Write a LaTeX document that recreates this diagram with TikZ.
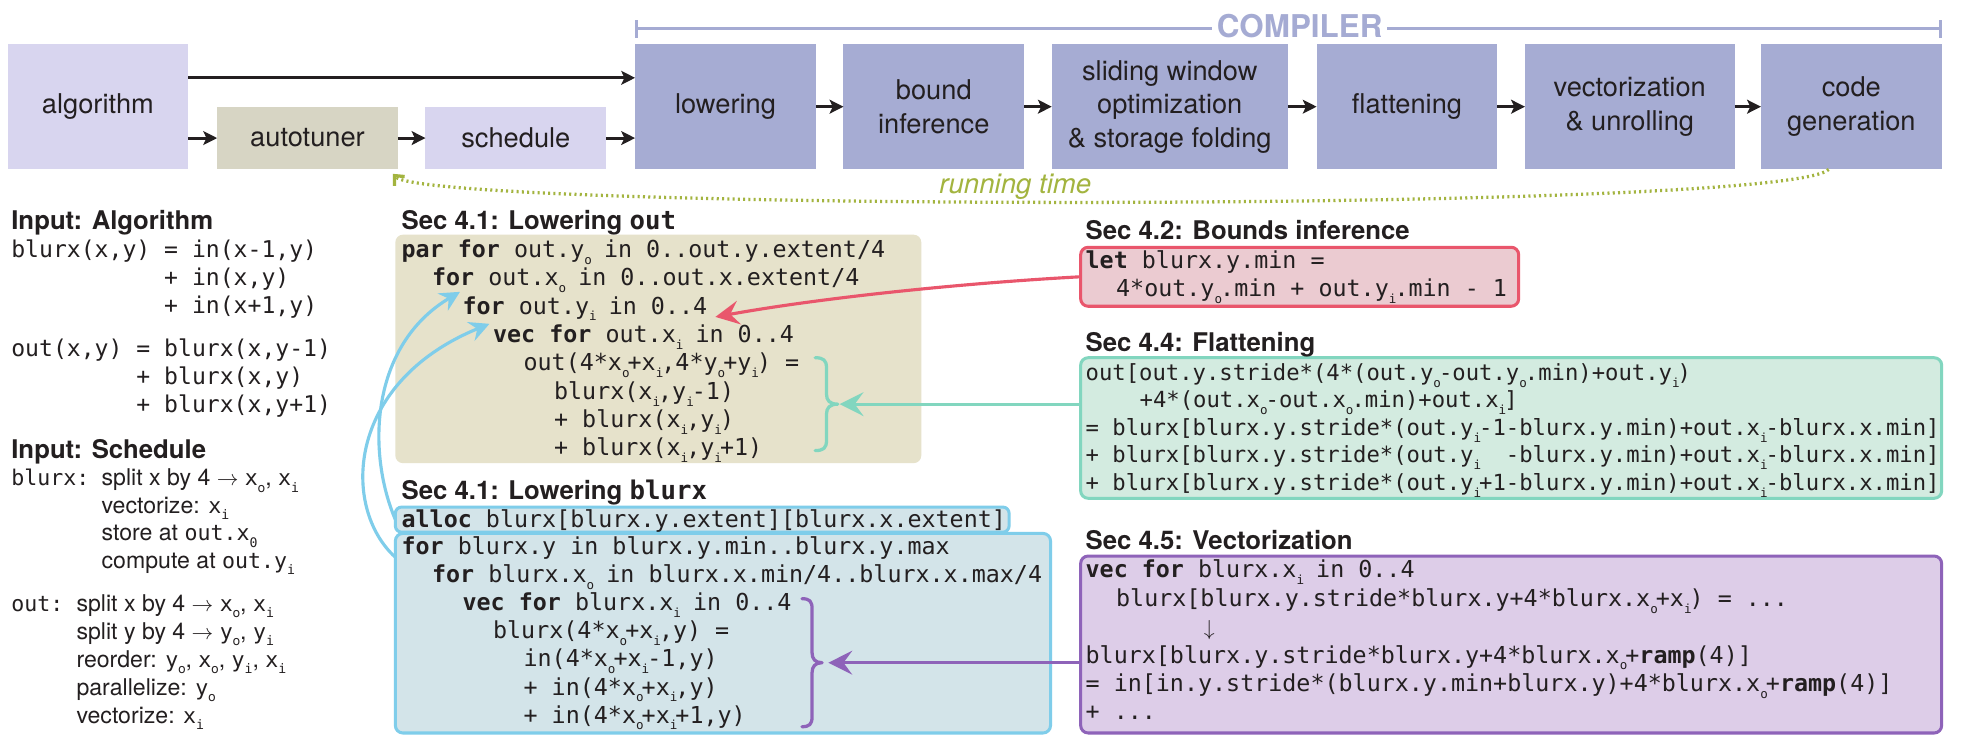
\documentclass[tikz,border=0pt]{standalone}
\usepackage{fontspec}
\setmainfont{TeX Gyre Heros}
\newfontfamily\monof{DejaVu Sans Mono}
\usetikzlibrary{arrows.meta}
\definecolor{cmpbox}{HTML}{A6ACD3}
\definecolor{cmptext}{HTML}{A5ABD3}
\definecolor{inbox}{HTML}{D8D5EF}
\definecolor{atbox}{HTML}{D7D5C4}
\definecolor{khaki}{HTML}{E6E2CB}
\definecolor{bluefill}{HTML}{D3E4E9}
\definecolor{blueline}{HTML}{7FCDEA}
\definecolor{redfill}{HTML}{EBCBD1}
\definecolor{redline}{HTML}{E9566C}
\definecolor{greenfill}{HTML}{D3EBE0}
\definecolor{greenline}{HTML}{82D6BF}
\definecolor{purfill}{HTML}{DDCDE8}
\definecolor{purline}{HTML}{8E63B9}
\definecolor{olive}{HTML}{A3B43F}
\definecolor{ink}{HTML}{231F20}
\newlength\ltab \setlength\ltab{24.3pt}
\newcommand\tb[1]{\hspace*{#1\ltab}}
\newcommand\sbs[1]{\makebox[4.5pt][l]{\raisebox{-5.5pt}{\fontsize{10}{10}\selectfont #1}}}
\newcommand\ssb[1]{\raisebox{-5pt}{\fontsize{10.5}{10.5}\selectfont #1}}
\newcommand\kw[1]{\textbf{#1}}
\newcommand\cblock[2]{\vtop{\baselineskip=#1\relax\lineskiplimit=-100pt\relax\lineskip=0pt\relax #2}}
\newcommand\labfont{\fontsize{21.7}{26.7}\selectfont}
\newcommand\headfont{\fontsize{20.5}{24}\selectfont\bfseries}
\newcommand\codefont{\monof\fontsize{18.6}{22.6}\selectfont}
\newcommand\flatfont{\monof\fontsize{17.7}{21.9}\selectfont}
\newcommand\algfont{\monof\fontsize{18.4}{22.5}\selectfont}
\newcommand\schfont{\fontsize{18.4}{22.4}\selectfont}
\newcommand\schm[1]{{\monof\fontsize{17.2}{22.4}\selectfont #1}}
\begin{document}
\begin{tikzpicture}[x=1pt,y=-1pt,
  txt/.style={inner sep=0pt, outer sep=0pt, text=ink, anchor=base west},
  stage/.style={fill=cmpbox, minimum width=144pt, minimum height=100pt, inner sep=0pt, outer sep=0pt, align=center, font=\labfont, text=ink},
  blk/.style={draw=ink, line width=2.3pt, -{Stealth[length=11pt,width=11pt,inset=2.5pt]}},
  cbox/.style={rounded corners=6pt, inner sep=0pt, outer sep=0pt, anchor=north west, line width=2.4pt},
  conn/.style={line width=2.5pt, -{Stealth[length=19pt,width=19pt,inset=7pt]}},
  bconn/.style={line width=2.5pt, -{Stealth[length=16pt,width=16pt,inset=5.5pt]}},
  brc/.style={line width=2.6pt, line cap=round, line join=round},
  cmpline/.style={draw=cmptext, line width=2.4pt}]
\useasboundingbox (0,0) rectangle (1568,598);
\fill[white] (0,0) rectangle (1568,598);

% ---------- top row ----------
\node[stage, fill=inbox] (alg) at (78,85) {algorithm};
\node[stage, fill=atbox, minimum height=49pt] (at) at (245,110) {autotuner};
\node[stage, fill=inbox, minimum height=49pt] (sch) at (411,110) {schedule};
\node[stage] (low) at (578,85) {lowering};
\node[stage] (bnd) at (744,85) {bound\\inference};
\node[stage, minimum width=188pt] (sw) at (932,85) {sliding window\\optimization\\\& storage folding};
\node[stage] (fla) at (1121,85) {flattening};
\node[stage, minimum width=167pt] (vu) at (1298.5,85) {vectorization\\\& unrolling};
\node[stage] (cg) at (1475,85) {code\\generation};

\coordinate (a1) at ([yshift=-27pt]alg.north east);
\draw[blk] (a1) -- (a1 -| low.west);
\draw[blk] (alg.east |- at.west) -- (at.west);
\draw[blk] (at.east) -- (sch.west);
\draw[blk] (sch.east) -- (sch.east -| low.west);
\draw[blk] (low.east) -- (bnd.west);
\draw[blk] (bnd.east) -- (sw.west);
\draw[blk] (sw.east) -- (fla.west);
\draw[blk] (fla.east) -- (vu.west);
\draw[blk] (vu.east) -- (cg.west);

% compiler bracket
\node[txt, anchor=center, font=\fontsize{25}{25}\selectfont\bfseries, text=cmptext, inner xsep=4pt] (cmp) at (1035.5,21) {COMPILER};
\coordinate (cl) at (506,23);
\coordinate (cr) at (1547,23);
\draw[cmpline, {Bar[width=14pt]}-] (cl) -- (cmp.west |- cl);
\draw[cmpline, -{Bar[width=14pt]}] (cmp.east |- cr) -- (cr);

% running time feedback
\coordinate (rs) at ([xshift=-18pt]cg.south);
\coordinate (re) at ([xshift=-4pt,yshift=-4pt]at.south east);
\draw[olive, line width=2.6pt, dash pattern=on 1.6pt off 2.6pt, -{Straight Barb[length=6pt,width=11pt]}] (rs) .. controls (1420,170) and (340,168) .. (re);
\node[txt, anchor=center, font=\fontsize{22}{22}\selectfont\itshape, text=olive] (rt) at (809,149) {running time};

% ---------- left column ----------
\node[txt, font=\headfont] (ia) at (9,183) {Input: Algorithm};
\node[txt, font=\algfont] (ac1) at (9,205) {\cblock{22.5pt}{%
\hbox{blurx(x,y) = in(x-1,y)}%
\hbox{\phantom{xxxxxxxxxxx}+ in(x,y)}%
\hbox{\phantom{xxxxxxxxxxx}+ in(x+1,y)}}};
\node[txt, font=\algfont] (ac2) at (9,284) {\cblock{22.5pt}{%
\hbox{out(x,y) = blurx(x,y-1)}%
\hbox{\phantom{xxxxxxxxx}+ blurx(x,y)}%
\hbox{\phantom{xxxxxxxxx}+ blurx(x,y+1)}}};

\node[txt, font=\headfont] (is) at (9,365) {Input: Schedule};
\node[txt] (sb) at (9,387) {\schm{blurx:}};
\node[txt, font=\schfont] (sb1) at (81,387) {\cblock{22pt}{%
\hbox{split x by 4 $\rightarrow$ \schm{x}\ssb{o}, \schm{x}\ssb{\monof i}}%
\hbox{vectorize: \schm{x}\ssb{\monof i}}%
\hbox{store at \schm{out.x}\ssb{\monof 0}}%
\hbox{compute at \schm{out.y}\ssb{\monof i}}}};
\node[txt] (so) at (9,487) {\schm{out:}};
\node[txt, font=\schfont] (so1) at (61,487) {\cblock{22.3pt}{%
\hbox{split x by 4 $\rightarrow$ \schm{x}\ssb{o}, \schm{x}\ssb{\monof i}}%
\hbox{split y by 4 $\rightarrow$ \schm{y}\ssb{o}, \schm{y}\ssb{\monof i}}%
\hbox{reorder: \schm{y}\ssb{o}, \schm{x}\ssb{o}, \schm{y}\ssb{\monof i}, \schm{x}\ssb{\monof i}}%
\hbox{parallelize: \schm{y}\ssb{o}}%
\hbox{vectorize: \schm{x}\ssb{\monof i}}}};

% ---------- code boxes ----------
\node[cbox, fill=khaki, minimum width=419pt, minimum height=182pt] (lob) at (315,187) {};
\node[cbox, fill=bluefill, draw=blueline, rounded corners=5pt, minimum width=489pt, minimum height=20pt] (alb) at (315,404) {};
\node[cbox, fill=bluefill, draw=blueline, minimum width=522pt, minimum height=159pt] (blb) at (315,425) {};
\node[cbox, fill=redfill, draw=redline, minimum width=349pt, minimum height=47pt] (bib) at (861,197) {};
\node[cbox, fill=greenfill, draw=greenline, minimum width=686pt, minimum height=112pt] (flb) at (861,285) {};
\node[cbox, fill=purfill, draw=purline, minimum width=686pt, minimum height=141pt] (vcb) at (861,443) {};

% headings
\node[txt, font=\headfont] (h1) at (320,183) {Sec 4.1: Lowering {\monof out}};
\node[txt, font=\headfont] (h2) at (320,398) {Sec 4.1: Lowering {\monof blurx}};
\node[txt, font=\headfont] (h3) at (865,191) {Sec 4.2: Bounds inference};
\node[txt, font=\headfont] (h4) at (865,280) {Sec 4.4: Flattening};
\node[txt, font=\headfont] (h5) at (865,438) {Sec 4.5: Vectorization};

% Lowering out
\node[txt, font=\codefont] (lo) at (320,205) {\cblock{22.6pt}{%
\hbox{\kw{par for} out.y\sbs{o} in 0..out.y.extent/4}%
\hbox{\tb{1}\kw{for} out.x\sbs{o} in 0..out.x.extent/4}%
\hbox{\tb{2}\kw{for} out.y\sbs{i} in 0..4}%
\hbox{\tb{3}\kw{vec for} out.x\sbs{i} in 0..4}%
\hbox{\tb{4}out(4*x\sbs{o}+x\sbs{i},4*y\sbs{o}+y\sbs{i}) =}%
\hbox{\tb{5}blurx(x\sbs{i},y\sbs{i}-1)}%
\hbox{\tb{5}+ blurx(x\sbs{i},y\sbs{i})}%
\hbox{\tb{5}+ blurx(x\sbs{i},y\sbs{i}+1)}}};

% Lowering blurx
\node[txt, font=\codefont] (al) at (320,420) {\kw{alloc} blurx[blurx.y.extent][blurx.x.extent]};
\node[txt, font=\codefont] (bl) at (320,442) {\cblock{22.35pt}{%
\hbox{\kw{for} blurx.y in blurx.y.min..blurx.y.max}%
\hbox{\tb{1}\kw{for} blurx.x\sbs{o} in blurx.x.min/4..blurx.x.max/4}%
\hbox{\tb{2}\kw{vec for} blurx.x\sbs{i} in 0..4}%
\hbox{\tb{3}blurx(4*x\sbs{o}+x\sbs{i},y) =}%
\hbox{\tb{4}in(4*x\sbs{o}+x\sbs{i}-1,y)}%
\hbox{\tb{4}+ in(4*x\sbs{o}+x\sbs{i},y)}%
\hbox{\tb{4}+ in(4*x\sbs{o}+x\sbs{i}+1,y)}}};

% Bounds inference
\node[txt, font=\codefont] (bi) at (865,214) {\cblock{22.5pt}{%
\hbox{\kw{let} blurx.y.min =}%
\hbox{\tb{1}4*out.y\sbs{o}.min + out.y\sbs{i}.min - 1}}};

% Flattening
\node[txt, font=\flatfont] (fl) at (865,303) {\cblock{21.9pt}{%
\hbox{out[out.y.stride*(4*(out.y\sbs{o}-out.y\sbs{o}.min)+out.y\sbs{i})}%
\hbox{\hspace*{43pt}+4*(out.x\sbs{o}-out.x\sbs{o}.min)+out.x\sbs{i}]}%
\hbox{= blurx[blurx.y.stride*(out.y\sbs{i}-1-blurx.y.min)+out.x\sbs{i}-blurx.x.min]}%
\hbox{+ blurx[blurx.y.stride*(out.y\sbs{i}\phantom{-1}-blurx.y.min)+out.x\sbs{i}-blurx.x.min]}%
\hbox{+ blurx[blurx.y.stride*(out.y\sbs{i}+1-blurx.y.min)+out.x\sbs{i}-blurx.x.min]}}};

% Vectorization
\node[txt, font=\codefont] (vc) at (865,460.5) {\cblock{22.6pt}{%
\hbox{\kw{vec for} blurx.x\sbs{i} in 0..4}%
\hbox{\tb{1}blurx[blurx.y.stride*blurx.y+4*blurx.x\sbs{o}+x\sbs{i}) = ...}%
\hbox{}%
\hbox{blurx[blurx.y.stride*blurx.y+4*blurx.x\sbs{o}+\kw{ramp}(4)]}%
\hbox{= in[in.y.stride*(blurx.y.min+blurx.y)+4*blurx.x\sbs{o}+\kw{ramp}(4)]}%
\hbox{+ ...}}};
\node[txt, anchor=center, font=\fontsize{18}{18}\selectfont] (darr) at (963.5,502) {$\downarrow$};

% braces
\draw[brc, greenline] (649.5,285) .. controls (656,285) and (658.5,287) .. (658.5,293) -- (658.5,314) .. controls (658.5,319) and (661,322) .. (667.5,322) .. controls (661,322) and (658.5,325) .. (658.5,330) -- (658.5,351) .. controls (658.5,357) and (656,359) .. (649.5,359);
\draw[brc, purline] (639,477) .. controls (645,477) and (647,479) .. (647,485) -- (647,520) .. controls (647,525) and (649.5,528) .. (655,528) .. controls (649.5,528) and (647,531) .. (647,536) -- (647,571) .. controls (647,577) and (645,579) .. (639,579);

% connectors
\coordinate (tr) at (570,252.5);
\draw[conn, redline] (bib.west) .. controls (760,226) and (650,238) .. (tr);
\coordinate (gt) at (669,322);
\draw[conn, greenline] (gt -| flb.west) -- (gt);
\coordinate (pt) at (660,528);
\draw[conn, purline] (pt -| vcb.west) -- (pt);
\coordinate (ta) at (366.5,232.5);
\draw[bconn, blueline] (alb.west) .. controls (292,360) and (295,275) .. (ta);
\coordinate (bs) at ([yshift=-19pt]blb.north west);
\coordinate (tb2) at (390,258);
\draw[bconn, blueline] (bs) .. controls (272,405) and (275,305) .. (tb2);
\end{tikzpicture}
\end{document}
